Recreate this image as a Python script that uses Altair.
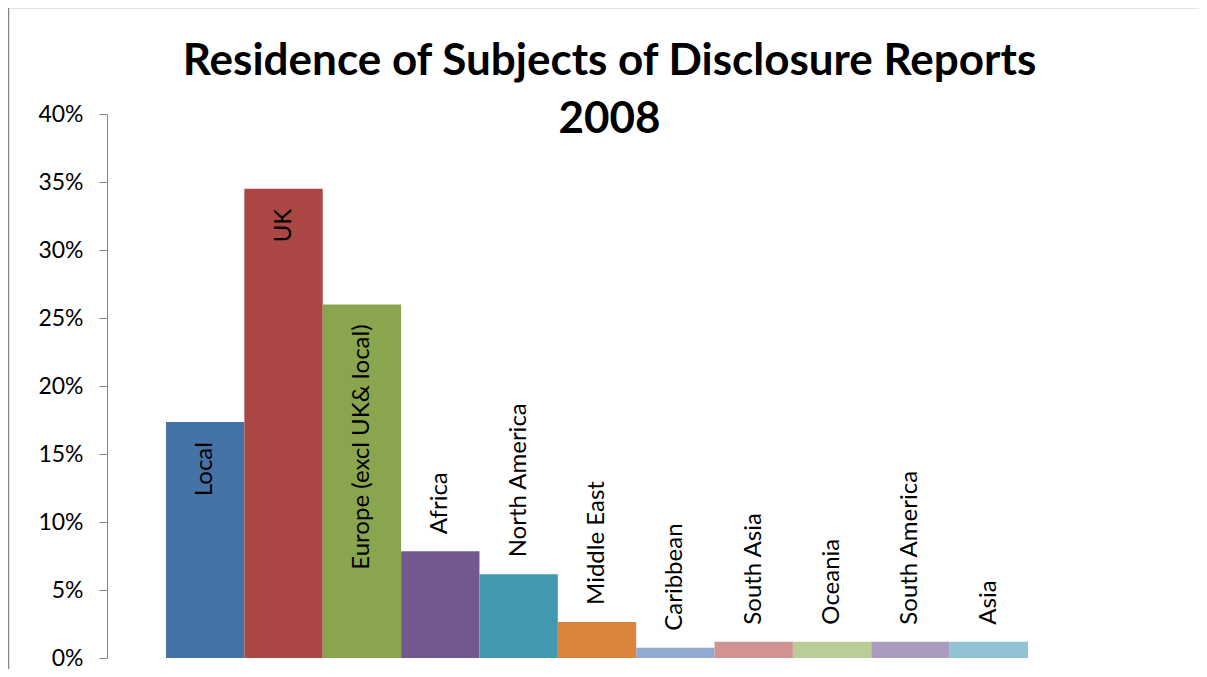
import altair as alt
import pandas as pd

regions = ["Local", "UK", "Europe (excl UK& local)", "Africa", "North America",
           "Middle East", "Caribbean", "South Asia", "Oceania", "South America", "Asia"]
shares = [0.1735, 0.345, 0.260, 0.0785, 0.0615, 0.0265, 0.0075, 0.012, 0.012, 0.012, 0.012]
colors = ["#4572A7", "#AA4643", "#89A54E", "#71588F", "#4198AF", "#DB843D",
          "#93A9CF", "#D19392", "#B9CD96", "#A99BBD", "#91C3D5"]
y_ticks = [0.0, 0.05, 0.10, 0.15, 0.20, 0.25, 0.30, 0.35, 0.40]
title_lines = ["Residence of Subjects of Disclosure Reports", "2008"]

df = pd.DataFrame({"region": regions, "share": shares})

FONT = "Lato"
GREY = "#868686"

x = alt.X("region:N", sort=regions, axis=None,
          scale=alt.Scale(paddingInner=0, paddingOuter=0.753))
y = alt.Y("share:Q",
          scale=alt.Scale(domain=[0, 0.4], nice=False, zero=True),
          axis=alt.Axis(values=y_ticks, format=".0%", title=None, grid=False,
                        domainColor=GREY, tickColor=GREY, tickSize=8,
                        labelPadding=16, labelFontSize=23, labelFont=FONT,
                        labelColor="#000000"))

bars = alt.Chart(df).mark_bar().encode(
    x=x, y=y,
    color=alt.Color("region:N", scale=alt.Scale(domain=regions, range=colors), legend=None),
)

inside = alt.Chart(df).transform_filter("datum.share > 0.15").mark_text(
    angle=270, align="right", baseline="middle", dx=-20,
    font=FONT, fontSize=24, color="#000000"
).encode(x=x, y=y, text="region:N")

outside = alt.Chart(df).transform_filter("datum.share <= 0.15").mark_text(
    angle=270, align="left", baseline="middle", dx=17,
    font=FONT, fontSize=24, color="#000000"
).encode(x=x, y=y, text="region:N")

frame_src = alt.Data(values=[{"k": 1}])
border_top = alt.Chart(frame_src).mark_rule(color=GREY, strokeWidth=1.5).encode(
    x=alt.value(-98.5), x2=alt.value(1200), y=alt.value(-106.5))
border_left = alt.Chart(frame_src).mark_rule(color=GREY, strokeWidth=1.5).encode(
    x=alt.value(-98.5), y=alt.value(-106.5), y2=alt.value(600))

chart = alt.layer(bars, inside, outside, border_top, border_left).properties(
    width=980, height=544,
    title=alt.TitleParams(text=title_lines, font=FONT, fontSize=44, fontWeight="bold",
                          color="#000000", anchor="middle", dx=12.5, offset=-170,
                          baseline="alphabetic", lineHeight=58),
    autosize=alt.AutoSizeParams(type="none"),
    padding={"left": 99, "top": 106, "right": 112, "bottom": 11},
).configure(background="white").configure_view(stroke=None)

chart.save("out.html", embed_options={"renderer": "svg", "actions": False})
